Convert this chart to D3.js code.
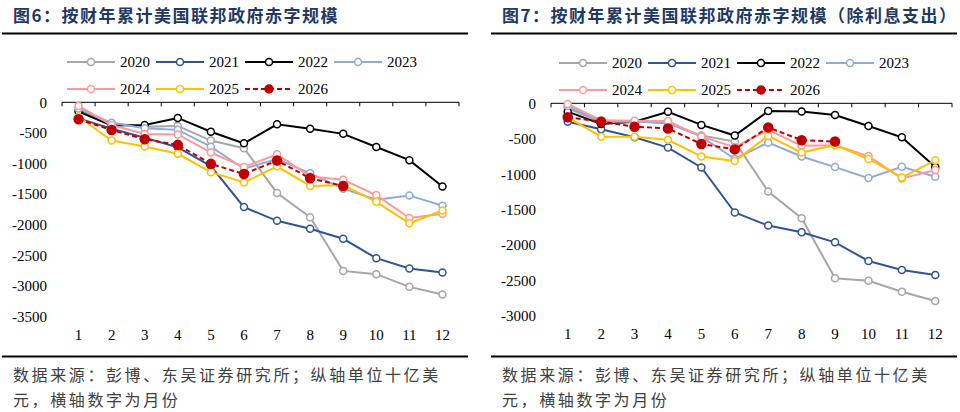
<!DOCTYPE html>
<html>
<head>
<meta charset="utf-8">
<script src="https://cdn.jsdelivr.net/npm/d3@7/dist/d3.min.js"></script>
<style>
  body { margin: 0; background: #fff; }
  svg { display: block; }
</style>
</head>
<body>
<svg id="chart" width="960" height="412"></svg>
<script>
// months on x axis
var months = [1, 2, 3, 4, 5, 6, 7, 8, 9, 10, 11, 12];
var years = ["2020", "2021", "2022", "2023", "2024", "2025", "2026"];
var colors = ["#a6a6a6", "#2f5597", "#000000", "#8faadc", "#ff9999", "#ffc000", "#c00000"];

// fig 6: cumulative deficit (billion USD)
var total2020 = [-125, -343, -400, -385, -625, -750, -1480, -1875, -2752, -2806, -3013, -3138];
var total2021 = [-262, -430, -580, -735, -1040, -1710, -1935, -2065, -2228, -2545, -2714, -2780];
var total2022 = [-150, -380, -370, -255, -480, -670, -360, -430, -515, -730, -945, -1375];
var total2023 = [-100, -335, -425, -450, -725, -1085, -925, -1160, -1410, -1590, -1520, -1690];
var total2024 = [-60, -370, -517, -525, -820, -1055, -850, -1210, -1265, -1515, -1890, -1820];
var total2025 = [-235, -625, -723, -840, -1140, -1310, -1045, -1365, -1350, -1625, -1975, -1765];
var total2026 = [-277, -452, -603, -695, -1005, -1170, -950, -1240, -1365];
var totalTicks = [0, -500, -1000, -1500, -2000, -2500, -3000, -3500];

// fig 7: cumulative deficit excluding interest
var exInt2020 = [-70, -260, -250, -280, -455, -540, -1245, -1620, -2468, -2502, -2657, -2788];
var exInt2021 = [-259, -367, -480, -625, -905, -1540, -1725, -1820, -1961, -2224, -2351, -2422];
var exInt2022 = [-118, -292, -259, -120, -305, -455, -110, -115, -165, -320, -480, -900];
var exInt2023 = [-38, -262, -255, -280, -470, -785, -555, -750, -900, -1055, -895, -1035];
var exInt2024 = [-10, -240, -245, -250, -470, -620, -375, -600, -590, -745, -1060, -940];
var exInt2025 = [-200, -471, -471, -515, -750, -815, -460, -695, -590, -785, -1045, -805];
var exInt2026 = [-197, -259, -330, -355, -575, -650, -340, -520, -540];
var exIntTicks = [0, -500, -1000, -1500, -2000, -2500, -3000];

var svg = d3.select("#chart");
var cjk = "'Noto Sans CJK SC', 'Noto Sans', sans-serif";
var serif = "'Liberation Serif', 'DejaVu Serif', serif";

function drawChart(opt)
{
  var g = svg.append("g");

  // title + rules
  g.append("text")
    .attr("x", opt.left0 + 11).attr("y", 22)
    .attr("font-family", cjk).attr("font-weight", 700)
    .attr("font-size", 17).attr("letter-spacing", 1.5)
    .attr("fill", "#1f3864")
    .text(opt.title);
  g.append("line")
    .attr("x1", opt.left0).attr("x2", opt.right0)
    .attr("y1", 33.5).attr("y2", 33.5)
    .attr("stroke", "#000").attr("stroke-width", 2);
  g.append("line")
    .attr("x1", opt.left0).attr("x2", opt.right0)
    .attr("y1", 356.5).attr("y2", 356.5)
    .attr("stroke", "#000").attr("stroke-width", 2);
  var foot = g.append("text")
    .attr("font-family", cjk).attr("font-size", 16)
    .attr("letter-spacing", 2.6).attr("fill", "#404040");
  foot.append("tspan").attr("x", opt.left0 + 11).attr("y", 381)
    .text("数据来源：彭博、东吴证券研究所；纵轴单位十亿美");
  foot.append("tspan").attr("x", opt.left0 + 11).attr("y", 406)
    .text("元，横轴数字为月份");

  var x = d3.scaleBand().domain(months).range([opt.x0, opt.x1]);
  var y = d3.scaleLinear().domain([opt.ticks[opt.ticks.length - 1], 0]).range([opt.y1, opt.y0]);

  // y labels
  var yAxis = g.append("g")
    .attr("transform", "translate(" + (opt.x0 - 12) + ",0)")
    .call(d3.axisLeft(y).tickValues(opt.ticks).tickSize(0).tickFormat(function(d){ return String(d); }));
  yAxis.select(".domain").remove();
  yAxis.selectAll("text").attr("font-family", serif).attr("font-size", 15).attr("fill", "#000");

  // x axis line at zero with ticks on band edges
  g.append("line")
    .attr("x1", opt.x0).attr("x2", opt.x1)
    .attr("y1", y(0)).attr("y2", y(0))
    .attr("stroke", "#000").attr("stroke-width", 1);
  var edges = months.map(function(m){ return x(m); }).concat([opt.x1]);
  g.selectAll(".xtick").data(edges).enter().append("line")
    .attr("x1", function(d){ return d; }).attr("x2", function(d){ return d; })
    .attr("y1", y(0)).attr("y2", y(0) + 4)
    .attr("stroke", "#000").attr("stroke-width", 1);
  g.selectAll(".xlab").data(months).enter().append("text")
    .attr("x", function(d){ return x(d) + x.bandwidth() / 2; })
    .attr("y", opt.labelY)
    .attr("text-anchor", "middle")
    .attr("font-family", serif).attr("font-size", 15)
    .text(function(d){ return d; });

  // series
  var line = d3.line()
    .x(function(d, i){ return x(months[i]) + x.bandwidth() / 2; })
    .y(function(d){ return y(d); });
  opt.series.forEach(function(vals, k){
    var isDash = (k == 6);
    g.append("path").datum(vals)
      .attr("d", line)
      .attr("fill", "none")
      .attr("stroke", colors[k])
      .attr("stroke-width", 2)
      .attr("stroke-dasharray", isDash ? "5,3" : null);
    g.selectAll(".pt" + k).data(vals).enter().append("circle")
      .attr("cx", function(d, i){ return x(months[i]) + x.bandwidth() / 2; })
      .attr("cy", function(d){ return y(d); })
      .attr("r", isDash ? 4.5 : 3.5)
      .attr("fill", isDash ? colors[k] : "#fff")
      .attr("stroke", colors[k])
      .attr("stroke-width", 1.5);
  });

  // legend
  years.forEach(function(yr, k){
    var row = k < 4 ? 0 : 1;
    var col = k < 4 ? k : k - 4;
    var lx = opt.legendX + col * opt.legendStep;
    var ly = row == 0 ? opt.legendY : opt.legendY + 27;
    var isDash = (k == 6);
    g.append("line")
      .attr("x1", lx).attr("x2", lx + 48)
      .attr("y1", ly).attr("y2", ly)
      .attr("stroke", colors[k]).attr("stroke-width", 2)
      .attr("stroke-dasharray", isDash ? "5,3" : null);
    g.append("circle")
      .attr("cx", lx + 24).attr("cy", ly)
      .attr("r", isDash ? 4 : 3.5)
      .attr("fill", isDash ? colors[k] : "#fff")
      .attr("stroke", colors[k]).attr("stroke-width", 1.5);
    g.append("text")
      .attr("x", lx + 53).attr("y", ly + 5)
      .attr("font-family", serif).attr("font-size", 15)
      .text(yr);
  });
}

drawChart({
  title: "图6：按财年累计美国联邦政府赤字规模",
  left0: 2, right0: 468,
  x0: 62, x1: 459, y0: 102.3, y1: 316.7, labelY: 340,
  ticks: totalTicks,
  series: [total2020, total2021, total2022, total2023, total2024, total2025, total2026],
  legendX: 67, legendStep: 89, legendY: 62
});

drawChart({
  title: "图7：按财年累计美国联邦政府赤字规模（除利息支出）",
  left0: 491, right0: 957,
  x0: 551, x1: 952, y0: 103.3, y1: 316, labelY: 339,
  ticks: exIntTicks,
  series: [exInt2020, exInt2021, exInt2022, exInt2023, exInt2024, exInt2025, exInt2026],
  legendX: 559, legendStep: 89, legendY: 63
});
</script>
</body>
</html>
